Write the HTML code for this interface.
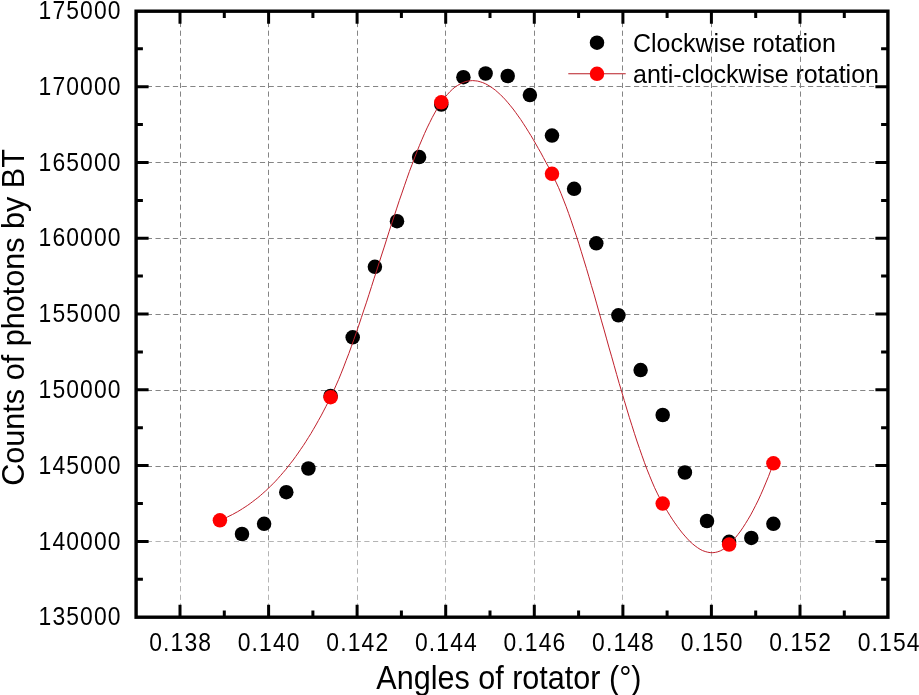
<!DOCTYPE html>
<html><head><meta charset="utf-8"><title>Counts of photons by BT vs angles of rotator</title>
<style>
html,body{margin:0;padding:0;background:#fff;overflow:hidden;}
svg{display:block;}
text{font-family:"Liberation Sans",Arial,sans-serif;fill:#000;}
</style></head><body>
<svg width="919" height="695" viewBox="0 0 919 695">
<rect width="919" height="695" fill="#fff"/>
<g stroke="#858585" stroke-width="1" stroke-dasharray="5.2 3.5" fill="none">
<path d="M180.5 13.2V542.5"/><path d="M268.5 13.2V542.5"/><path d="M357.5 13.2V542.5"/><path d="M445.5 13.2V542.5"/><path d="M534.5 13.2V542.5"/><path d="M622.5 13.2V542.5"/><path d="M711.5 13.2V542.5"/><path d="M800.5 13.2V542.5"/><path d="M138.1 86.5H885.9"/><path d="M138.1 162.5H885.9"/><path d="M138.1 238.5H885.9"/><path d="M138.1 314.5H885.9"/><path d="M138.1 390.5H885.9"/><path d="M138.1 466.5H885.9"/>
</g>
<g stroke="#b4b4b4" stroke-width="1" stroke-dasharray="5.2 3.5" fill="none">
<path d="M180.5 542.5V615.2"/><path d="M268.5 542.5V615.2"/><path d="M357.5 542.5V615.2"/><path d="M445.5 542.5V615.2"/><path d="M534.5 542.5V615.2"/><path d="M622.5 542.5V615.2"/><path d="M711.5 542.5V615.2"/><path d="M800.5 542.5V615.2"/><path d="M138.1 541.5H885.9"/>
</g>
<g fill="#000"><circle cx="242.0" cy="534.0" r="7.25"/><circle cx="264.1" cy="523.8" r="7.25"/><circle cx="286.3" cy="492.2" r="7.25"/><circle cx="308.4" cy="468.5" r="7.25"/><circle cx="330.6" cy="395.9" r="7.25"/><circle cx="352.7" cy="337.3" r="7.25"/><circle cx="374.9" cy="266.8" r="7.25"/><circle cx="397.0" cy="221.2" r="7.25"/><circle cx="419.1" cy="157.1" r="7.25"/><circle cx="441.3" cy="104.6" r="7.25"/><circle cx="463.4" cy="77.2" r="7.25"/><circle cx="485.6" cy="73.5" r="7.25"/><circle cx="507.7" cy="76.0" r="7.25"/><circle cx="529.9" cy="95.1" r="7.25"/><circle cx="552.0" cy="135.6" r="7.25"/><circle cx="574.1" cy="188.8" r="7.25"/><circle cx="596.3" cy="243.3" r="7.25"/><circle cx="618.4" cy="315.3" r="7.25"/><circle cx="640.6" cy="370.1" r="7.25"/><circle cx="662.7" cy="415.0" r="7.25"/><circle cx="684.9" cy="472.5" r="7.25"/><circle cx="707.0" cy="521.0" r="7.25"/><circle cx="729.1" cy="541.8" r="7.25"/><circle cx="751.3" cy="537.9" r="7.25"/><circle cx="773.4" cy="523.8" r="7.25"/></g>
<polyline points="219.9,520.3 222.4,519.2 224.9,518.1 227.4,517.0 230.0,515.7 232.5,514.5 235.0,513.1 237.6,511.7 240.1,510.2 242.6,508.6 245.1,507.0 247.7,505.3 250.2,503.5 252.7,501.6 255.2,499.7 257.8,497.7 260.3,495.6 262.8,493.4 265.4,491.1 267.9,488.8 270.4,486.3 272.9,483.8 275.5,481.2 278.0,478.4 280.5,475.6 283.0,472.7 285.6,469.7 288.1,466.5 290.6,463.3 293.2,460.0 295.7,456.5 298.2,453.0 300.7,449.3 303.3,445.6 305.8,441.7 308.3,437.7 310.9,433.6 313.4,429.3 315.9,425.0 318.4,420.5 321.0,415.9 323.5,411.1 326.0,406.3 328.5,401.3 331.1,396.2 333.6,390.8 336.1,385.2 338.7,379.3 341.2,373.2 343.7,366.9 346.2,360.3 348.8,353.6 351.3,346.7 353.8,339.6 356.4,332.3 358.9,325.0 361.4,317.5 363.9,309.9 366.5,302.2 369.0,294.4 371.5,286.6 374.0,278.7 376.6,270.8 379.1,262.9 381.6,255.0 384.2,247.1 386.7,239.2 389.2,231.3 391.7,223.5 394.3,215.7 396.8,208.1 399.3,200.5 401.9,193.1 404.4,185.8 406.9,178.6 409.4,171.5 412.0,164.7 414.5,158.0 417.0,151.5 419.5,145.3 422.1,139.2 424.6,133.4 427.1,127.9 429.7,122.6 432.2,117.6 434.7,113.0 437.2,108.6 439.8,104.6 442.3,100.9 444.8,97.5 447.4,94.5 449.9,91.7 452.4,89.3 454.9,87.2 457.5,85.5 460.0,84.0 462.5,82.7 465.0,81.8 467.6,81.1 470.1,80.8 472.6,80.6 475.2,80.8 477.7,81.1 480.2,81.8 482.7,82.6 485.3,83.7 487.8,85.0 490.3,86.6 492.8,88.3 495.4,90.2 497.9,92.4 500.4,94.7 503.0,97.2 505.5,99.9 508.0,102.8 510.5,105.8 513.1,109.0 515.6,112.4 518.1,115.9 520.7,119.5 523.2,123.3 525.7,127.2 528.2,131.2 530.8,135.4 533.3,139.6 535.8,144.0 538.3,148.4 540.9,152.9 543.4,157.6 545.9,162.3 548.5,167.0 551.0,171.9 553.5,176.8 556.0,182.1 558.6,187.7 561.1,193.7 563.6,200.1 566.2,206.7 568.7,213.6 571.2,220.7 573.7,228.2 576.3,235.8 578.8,243.7 581.3,251.7 583.8,259.9 586.4,268.3 588.9,276.8 591.4,285.5 594.0,294.2 596.5,303.1 599.0,312.0 601.5,320.9 604.1,329.9 606.6,338.9 609.1,347.9 611.7,356.8 614.2,365.7 616.7,374.6 619.2,383.4 621.8,392.0 624.3,400.6 626.8,409.0 629.3,417.3 631.9,425.4 634.4,433.3 636.9,441.0 639.5,448.5 642.0,455.7 644.5,462.7 647.0,469.4 649.6,475.8 652.1,481.9 654.6,487.7 657.2,493.1 659.7,498.1 662.2,502.7 664.7,507.0 667.3,511.2 669.8,515.3 672.3,519.2 674.8,522.9 677.4,526.5 679.9,529.9 682.4,533.1 685.0,536.1 687.5,538.9 690.0,541.5 692.5,543.8 695.1,545.9 697.6,547.7 700.1,549.3 702.6,550.6 705.2,551.5 707.7,552.2 710.2,552.6 712.8,552.7 715.3,552.4 717.8,551.8 720.3,550.9 722.9,549.5 725.4,547.8 727.9,545.7 730.5,543.3 733.0,540.6 735.5,537.6 738.0,534.4 740.6,531.0 743.1,527.3 745.6,523.4 748.1,519.3 750.7,514.9 753.2,510.2 755.7,505.3 758.3,500.1 760.8,494.6 763.3,488.9 765.8,482.9 768.4,476.7 770.9,470.1 773.4,463.3" fill="none" stroke="#c0202c" stroke-width="1"/>
<g fill="#f00"><circle cx="219.9" cy="520.3" r="7.25"/><circle cx="330.6" cy="397.2" r="7.25"/><circle cx="441.3" cy="102.3" r="7.25"/><circle cx="552.0" cy="173.8" r="7.25"/><circle cx="662.7" cy="503.6" r="7.25"/><circle cx="729.1" cy="544.6" r="7.25"/><circle cx="773.4" cy="463.3" r="7.25"/></g>
<rect x="136.1" y="11.2" width="751.8" height="606.0" fill="none" stroke="#000" stroke-width="3.4"/>
<path d="M180.0 617.2V604.7M180.0 11.2V23.7M268.6 617.2V604.7M268.6 11.2V23.7M357.1 617.2V604.7M357.1 11.2V23.7M445.7 617.2V604.7M445.7 11.2V23.7M534.3 617.2V604.7M534.3 11.2V23.7M622.9 617.2V604.7M622.9 11.2V23.7M711.4 617.2V604.7M711.4 11.2V23.7M800.0 617.2V604.7M800.0 11.2V23.7M224.3 617.2V610.4000000000001M224.3 11.2V18.0M312.9 617.2V610.4000000000001M312.9 11.2V18.0M401.4 617.2V610.4000000000001M401.4 11.2V18.0M490.0 617.2V610.4000000000001M490.0 11.2V18.0M578.6 617.2V610.4000000000001M578.6 11.2V18.0M667.1 617.2V610.4000000000001M667.1 11.2V18.0M755.7 617.2V610.4000000000001M755.7 11.2V18.0M844.3 617.2V610.4000000000001M844.3 11.2V18.0M136.1 86.7H148.6M887.9 86.7H875.4M136.1 162.5H148.6M887.9 162.5H875.4M136.1 238.3H148.6M887.9 238.3H875.4M136.1 314.0H148.6M887.9 314.0H875.4M136.1 389.8H148.6M887.9 389.8H875.4M136.1 465.6H148.6M887.9 465.6H875.4M136.1 541.4H148.6M887.9 541.4H875.4M136.1 48.8H142.9M887.9 48.8H881.1M136.1 124.6H142.9M887.9 124.6H881.1M136.1 200.4H142.9M887.9 200.4H881.1M136.1 276.1H142.9M887.9 276.1H881.1M136.1 351.9H142.9M887.9 351.9H881.1M136.1 427.7H142.9M887.9 427.7H881.1M136.1 503.5H142.9M887.9 503.5H881.1M136.1 579.3H142.9M887.9 579.3H881.1" stroke="#000" stroke-width="3" fill="none"/>
<g font-size="26" letter-spacing="1.3">
<text transform="translate(180.7,650.8) scale(0.88,1)" text-anchor="middle">0.138</text><text transform="translate(269.2,650.8) scale(0.88,1)" text-anchor="middle">0.140</text><text transform="translate(357.8,650.8) scale(0.88,1)" text-anchor="middle">0.142</text><text transform="translate(446.4,650.8) scale(0.88,1)" text-anchor="middle">0.144</text><text transform="translate(534.9,650.8) scale(0.88,1)" text-anchor="middle">0.146</text><text transform="translate(623.5,650.8) scale(0.88,1)" text-anchor="middle">0.148</text><text transform="translate(712.1,650.8) scale(0.88,1)" text-anchor="middle">0.150</text><text transform="translate(800.6,650.8) scale(0.88,1)" text-anchor="middle">0.152</text><text transform="translate(889.2,650.8) scale(0.88,1)" text-anchor="middle">0.154</text><text transform="translate(121.7,19.1) scale(0.88,1)" text-anchor="end">175000</text><text transform="translate(121.7,94.9) scale(0.88,1)" text-anchor="end">170000</text><text transform="translate(121.7,170.7) scale(0.88,1)" text-anchor="end">165000</text><text transform="translate(121.7,246.4) scale(0.88,1)" text-anchor="end">160000</text><text transform="translate(121.7,322.2) scale(0.88,1)" text-anchor="end">155000</text><text transform="translate(121.7,398.0) scale(0.88,1)" text-anchor="end">150000</text><text transform="translate(121.7,473.8) scale(0.88,1)" text-anchor="end">145000</text><text transform="translate(121.7,549.6) scale(0.88,1)" text-anchor="end">140000</text><text transform="translate(121.7,625.3) scale(0.88,1)" text-anchor="end">135000</text>
</g>
<g font-size="25">
<circle cx="597" cy="42.7" r="7.25" fill="#000"/>
<text x="633" y="52.2">Clockwise rotation</text>
<path d="M568.3 73.8H625.7" stroke="#b81c24" stroke-width="1.1"/>
<circle cx="597" cy="73.8" r="7.25" fill="#f00"/>
<text x="633" y="82.8">anti-clockwise rotation</text>
</g>
<text transform="translate(376.3,688.6) scale(0.926,1)" font-size="33">Angles of rotator (°)</text>
<text transform="translate(23.6,485.8) rotate(-90)" font-size="30.6">Counts of photons by BT</text>
</svg>
</body></html>
